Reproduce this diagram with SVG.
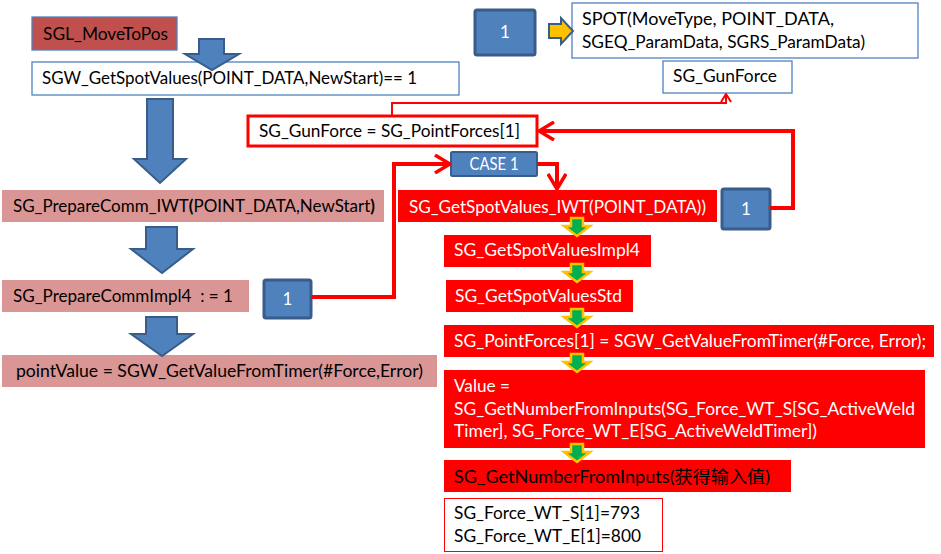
<svg xmlns="http://www.w3.org/2000/svg" width="941" height="554" viewBox="0 0 941 554">
<style>
  text { font-family: Lato, "Noto Sans CJK SC", "Liberation Sans", sans-serif; font-size: 17px; white-space: pre; }
  .dark { fill: #000; }
  .light { fill: #fff; }
  .pink { fill: #D99694; }
  .redbox { fill: #FF0000; }
  .outline { fill: #fff; stroke: #4F81BD; stroke-width: 1.3; }
  .num { fill: #4F81BD; stroke: #385D8A; stroke-width: 3; }
  .bigarrow { fill: #4F81BD; stroke: #385D8A; stroke-width: 2; stroke-linejoin: miter; }
  .greenarrow { fill: #00B050; stroke: #FFC000; stroke-width: 2.5; stroke-linejoin: miter; }
  .link { fill: none; stroke: #FF0000; stroke-width: 4; }
  .thin { fill: none; stroke: #FF0000; stroke-width: 2; }
</style>
<defs>
  <marker id="chev" viewBox="0 0 18 20" refX="16" refY="10" markerWidth="18" markerHeight="20" markerUnits="userSpaceOnUse" orient="auto">
    <path d="M1,1 L16,10 L1,19" fill="none" stroke="#FF0000" stroke-width="3.5"/>
  </marker>
  <marker id="chevs" viewBox="0 0 10 12" refX="9" refY="6" markerWidth="10" markerHeight="12" markerUnits="userSpaceOnUse" orient="auto">
    <path d="M1,1 L9,6 L1,11" fill="none" stroke="#FF0000" stroke-width="2"/>
  </marker>
  <path id="garrow" d="M-6,0 H6 V8 H13 L0,18 L-13,8 H-6 Z"/>
</defs>

<g id="n-sgl-movetopos">
  <rect x="32" y="17" width="145" height="33" fill="#C0504D" stroke="#4F81BD" stroke-width="1.3"/>
  <text x="43" y="40" class="dark" textLength="125" lengthAdjust="spacingAndGlyphs">SGL_MoveToPos</text>
</g>
<g id="n-sgw-getspotvalues">
  <rect x="32" y="62" width="427" height="33" class="outline"/>
  <text x="42" y="84" class="dark" textLength="375" lengthAdjust="spacingAndGlyphs">SGW_GetSpotValues(POINT_DATA,NewStart)== 1</text>
</g>
<g id="n-preparecomm-iwt">
  <rect x="2" y="190" width="382" height="32" class="pink"/>
  <text x="13" y="212" class="dark" textLength="362" lengthAdjust="spacingAndGlyphs">SG_PrepareComm_IWT<tspan font-weight="bold">(</tspan>POINT_DATA,NewStart<tspan font-weight="bold">)</tspan></text>
</g>
<g id="n-preparecommimpl4">
  <rect x="2" y="280" width="247" height="32" class="pink"/>
  <text x="13" y="302" class="dark" textLength="220" lengthAdjust="spacingAndGlyphs">SG_PrepareCommImpl4  : = 1</text>
</g>
<g id="n-pointvalue">
  <rect x="2" y="355" width="435" height="32" class="pink"/>
  <text x="16" y="377" class="dark" textLength="407" lengthAdjust="spacingAndGlyphs">pointValue = SGW_GetValueFromTimer(#Force,Error)</text>
</g>
<g id="n-one-left">
  <rect x="264" y="280" width="47" height="38" rx="2" class="num"/>
  <text x="287.5" y="305" class="light" text-anchor="middle">1</text>
</g>
<g id="n-one-top">
  <rect x="475" y="10" width="60" height="45" rx="2" class="num"/>
  <text x="505" y="38" class="light" text-anchor="middle">1</text>
</g>
<g id="n-spot">
  <rect x="572" y="3" width="346" height="55" class="outline"/>
  <text x="582" y="25" class="dark" textLength="252" lengthAdjust="spacingAndGlyphs">SPOT(MoveType, POINT_DATA,</text>
  <text x="582" y="48" class="dark" textLength="283" lengthAdjust="spacingAndGlyphs">SGEQ_ParamData, SGRS_ParamData)</text>
</g>
<g id="n-sg-gunforce">
  <rect x="663" y="61" width="129" height="32" class="outline"/>
  <text x="673" y="82" class="dark" textLength="104" lengthAdjust="spacingAndGlyphs">SG_GunForce</text>
</g>
<g id="n-gunforce-assign">
  <rect x="248" y="116" width="289" height="30" fill="#fff" stroke="#FF0000" stroke-width="3"/>
  <text x="259" y="137" class="dark" textLength="261" lengthAdjust="spacingAndGlyphs">SG_GunForce = SG_PointForces[1]</text>
</g>
<g id="n-case1">
  <rect x="451" y="152" width="86" height="24" rx="1.5" fill="#4F81BD" stroke="#385D8A" stroke-width="2"/>
  <text x="494" y="170" class="light" text-anchor="middle" font-size="16" textLength="49" lengthAdjust="spacingAndGlyphs">CASE 1</text>
</g>
<g id="n-getspotvalues-iwt">
  <rect x="398" y="190" width="319" height="32" class="redbox"/>
  <text x="409" y="213" class="light" textLength="297" lengthAdjust="spacingAndGlyphs">SG_GetSpotValues_IWT(POINT_DATA))</text>
</g>
<g id="n-one-right">
  <rect x="722" y="189" width="48" height="40" rx="2" class="num"/>
  <text x="746" y="215" class="light" text-anchor="middle">1</text>
</g>
<g id="n-impl4">
  <rect x="444" y="235" width="207" height="32" class="redbox"/>
  <text x="454" y="256" class="light" textLength="186" lengthAdjust="spacingAndGlyphs">SG_GetSpotValuesImpl4</text>
</g>
<g id="n-std">
  <rect x="446" y="280" width="187" height="32" class="redbox"/>
  <text x="455" y="302" class="light" textLength="167" lengthAdjust="spacingAndGlyphs">SG_GetSpotValuesStd</text>
</g>
<g id="n-pointforces">
  <rect x="444" y="325" width="490" height="32" class="redbox"/>
  <text x="454" y="347" class="light" textLength="472" lengthAdjust="spacingAndGlyphs">SG_PointForces[1] = SGW_GetValueFromTimer(#Force, Error);</text>
</g>
<g id="n-value">
  <rect x="444" y="370" width="481" height="78" class="redbox"/>
  <text x="454" y="392" class="light" textLength="56" lengthAdjust="spacingAndGlyphs">Value =</text>
  <text x="454" y="415" class="light" textLength="461" lengthAdjust="spacingAndGlyphs">SG_GetNumberFromInputs(SG_Force_WT_S[SG_ActiveWeld</text>
  <text x="454" y="437" class="light" textLength="363" lengthAdjust="spacingAndGlyphs">Timer], SG_Force_WT_E[SG_ActiveWeldTimer])</text>
</g>
<g id="n-getnumberfrominputs">
  <rect x="444" y="460" width="347" height="32" class="redbox"/>
  <text x="454" y="483" class="dark" textLength="316" lengthAdjust="spacingAndGlyphs">SG_GetNumberFromInputs(获得输入值)</text>
</g>
<g id="n-force-values">
  <rect x="444.5" y="498.5" width="218" height="53" fill="#fff" stroke="#FF0000" stroke-width="1"/>
  <text x="454" y="519" class="dark" textLength="186" lengthAdjust="spacingAndGlyphs">SG_Force_WT_S[1]=793</text>
  <text x="454" y="542" class="dark" textLength="187" lengthAdjust="spacingAndGlyphs">SG_Force_WT_E[1]=800</text>
</g>

<g id="connectors">
  <path class="bigarrow" d="M199,39 H224 V54 H239 L212,70 L185,54 H199 Z"/>
  <path class="bigarrow" d="M147,99 H173 V159 H186 L160,183 L134,159 H147 Z"/>
  <path class="bigarrow" d="M146,227 H177 V249 H193 L162,273 L131,249 H146 Z"/>
  <path class="bigarrow" d="M146,317 H177 V334 H193 L162,356 L131,334 H146 Z"/>
  <path d="M549,24 H561 V18 L573,31 L561,44 V38 H549 Z" fill="#FFC000" stroke="#385D8A" stroke-width="2"/>
  <path class="link" d="M311,297 H394 V164 H450" marker-end="url(#chev)"/>
  <path class="link" d="M537,164 H557 V189" marker-end="url(#chev)"/>
  <path class="link" d="M770,208 H793 V131 H539" marker-end="url(#chev)"/>
  <path class="thin" d="M392,116 V103 H726 V94" marker-end="url(#chevs)"/>
  <use href="#garrow" class="greenarrow" x="577" y="218"/>
  <use href="#garrow" class="greenarrow" x="577" y="264"/>
  <use href="#garrow" class="greenarrow" x="577" y="309"/>
  <use href="#garrow" class="greenarrow" x="577" y="354"/>
  <use href="#garrow" class="greenarrow" x="577" y="444"/>
</g>
</svg>
